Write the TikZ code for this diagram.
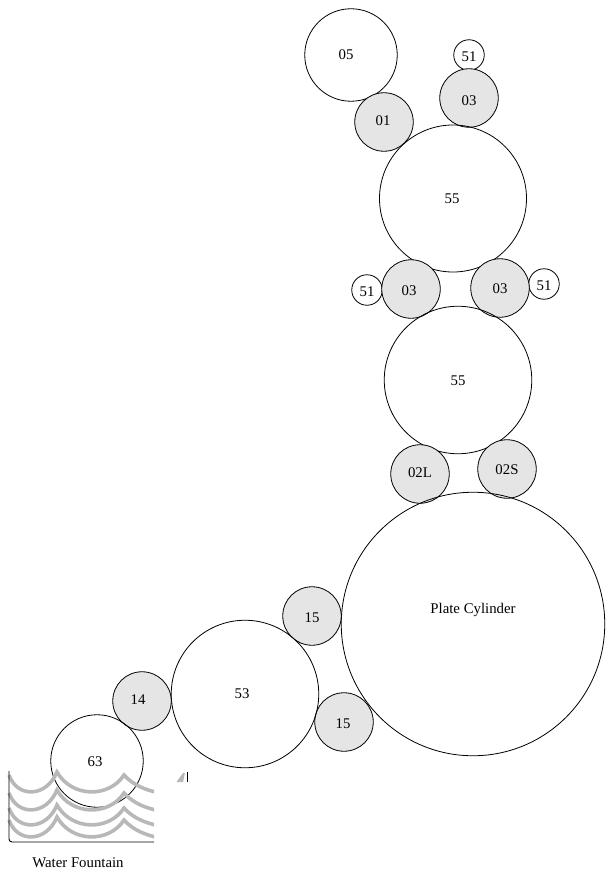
\documentclass[tikz,border=0pt]{standalone}
\usepackage{fontspec}
\setmainfont{Liberation Serif}
\definecolor{rollgray}{gray}{0.9}
\definecolor{wavegray}{gray}{0.72}
\tikzset{
  x=1pt,y=-1pt,
  roll/.style={circle,draw=black,line width=0.8pt,inner sep=0pt,minimum size=#1},
  formroll/.style={roll=58.5pt,fill=rollgray},
  txt/.style={inner sep=0pt,font=\fontsize{14.8}{17}\selectfont},
  waveline/.style={draw=wavegray,line width=3.6pt},
}
\begin{document}
\begin{tikzpicture}
\useasboundingbox (0,0) rectangle (605,869);
\node[roll=92.5pt] (r05) at (351,55) {};
\node[formroll] (r01) at (384,122) {};
\node[roll=30.5pt] (r51a) at (469,55) {};
\node[formroll] (r03a) at (469,98) {};
\node[roll=147pt] (r55a) at (453,198.5) {};
\node[roll=30.5pt] (r51b) at (367,290) {};
\node[formroll] (r03b) at (411,289) {};
\node[roll=30.5pt] (r51c) at (544,284) {};
\node[formroll] (r03c) at (500,288) {};
\node[roll=147.5pt] (r55b) at (458,380) {};
\node[formroll] (r02L) at (420,474) {};
\node[formroll] (r02S) at (507,469) {};
\node[roll=263.5pt] (plate) at (473,624) {};
\node[formroll] (r15a) at (312,616) {};
\node[formroll] (r15b) at (344,722) {};
\node[roll=147.5pt] (r53) at (245,694) {};
\node[formroll] (r14) at (142,701) {};
\node[roll=92.5pt] (r63) at (97,761) {};
\node[txt] (t05) at (346,55) {05};
\node[txt] (t01) at (383,121) {01};
\node[txt] (t03a) at (469,101) {03};
\node[txt] (t51a) at (469,57) {51};
\node[txt] (t55a) at (452,198.5) {55};
\node[txt] (t03b) at (409,291) {03};
\node[txt] (t51b) at (367,292) {51};
\node[txt] (t03c) at (500,289) {03};
\node[txt] (t51c) at (544,286) {51};
\node[txt] (t55b) at (458,381) {55};
\node[txt] (t02L) at (420,473) {02L};
\node[txt] (t02S) at (507,470) {02S};
\node[txt] (tplate) at (473,610) {Plate Cylinder};
\node[txt] (t15a) at (312,618) {15};
\node[txt] (t15b) at (343,724) {15};
\node[txt] (t53) at (242,694) {53};
\node[txt] (t14) at (138,700) {14};
\node[txt] (t63) at (95,762) {63};
\begin{scope}
\clip (0,760) rectangle (154,850);
\foreach \d in {0,18,33,45}{
  \draw[waveline,line join=miter] (9,{775+\d}) .. controls (17,{798+\d}) and (46,{798+\d}) .. (57,{772+\d})
     .. controls (72,{798+\d}) and (109,{798+\d}) .. (124,{775+\d})
     .. controls (133,{785+\d}) and (145,{790+\d}) .. (160,{793+\d});
}
\end{scope}
\draw[black,line width=0.9pt,rounded corners=3pt] (9,771) -- (9,842) -- (154,842);
\fill[wavegray] (176.5,782) -- (183,773) -- (185,773) -- (183,782) -- cycle;
\draw[black,line width=0.8pt] (187.5,772) -- (187.5,782);
\node[txt] (wf) at (78,862.5) {Water Fountain};
\end{tikzpicture}
\end{document}
